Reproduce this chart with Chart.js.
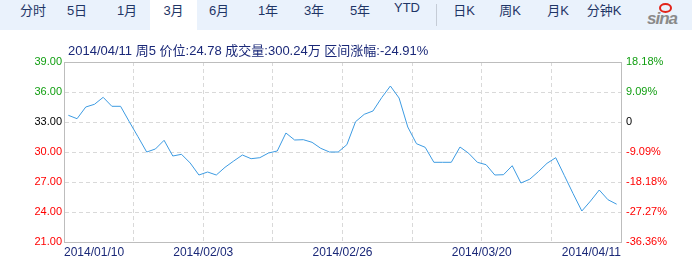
<!DOCTYPE html>
<html><head><meta charset="utf-8">
<script src="https://cdn.jsdelivr.net/npm/chart.js@4"></script>
<style>
html,body{margin:0;padding:0;background:#fff;width:700px;height:261px;overflow:hidden;}
#wrap{position:relative;width:700px;height:261px;}
#c{position:absolute;left:0;top:0;}
#bar{position:absolute;left:0;top:0;width:692px;height:30px;background:#eaf2fc;}
.tab{position:absolute;top:0;height:30px;line-height:30px;text-align:center;font:13px Arial,"Liberation Sans","Noto Sans CJK SC",sans-serif;color:#1f3566;width:46px;}
.active{background:#fff;width:47px;}
#sep{position:absolute;left:436px;top:4px;width:1px;height:22px;background:#c5ccd6;}
#logo{position:absolute;left:647px;top:9px;font:italic bold 17px Arial,"Liberation Sans",sans-serif;color:#8a8a8a;letter-spacing:-1px;}
#eye{position:absolute;left:659px;top:3px;width:9px;height:6px;border:2px solid #e2231a;border-radius:50%;}
#hdr{position:absolute;left:68px;top:43px;font:13px Arial,"Liberation Sans","Noto Sans CJK SC",sans-serif;color:#1a2878;white-space:nowrap;line-height:16px;}
</style>
</head><body>
<div id="wrap">
<canvas id="c" width="700" height="261"></canvas>
<div id="bar">
<span class="tab" style="left:10px">分时</span>
<span class="tab" style="left:54px">5日</span>
<span class="tab" style="left:104px">1月</span>
<span class="tab active" style="left:150px">3月</span>
<span class="tab" style="left:196px">6月</span>
<span class="tab" style="left:245px">1年</span>
<span class="tab" style="left:291px">3年</span>
<span class="tab" style="left:337px">5年</span>
<span class="tab" style="left:384px">YTD</span>
<span id="sep"></span>
<span class="tab" style="left:441px">日K</span>
<span class="tab" style="left:487px">周K</span>
<span class="tab" style="left:535px">月K</span>
<span class="tab" style="left:581px">分钟K</span>
<span id="eye"></span><span id="logo">sina</span>
</div>
<div id="hdr"></div>
</div>
<script>
const dates = [
 '2014/01/10','2014/01/13','2014/01/14','2014/01/15','2014/01/16','2014/01/17',
 '2014/01/21','2014/01/22','2014/01/23','2014/01/24','2014/01/27','2014/01/28',
 '2014/01/29','2014/01/30','2014/01/31','2014/02/03','2014/02/04','2014/02/05',
 '2014/02/06','2014/02/07','2014/02/10','2014/02/11','2014/02/12','2014/02/13',
 '2014/02/14','2014/02/18','2014/02/19','2014/02/20','2014/02/21','2014/02/24',
 '2014/02/25','2014/02/26','2014/02/27','2014/02/28','2014/03/03','2014/03/04',
 '2014/03/05','2014/03/06','2014/03/07','2014/03/10','2014/03/11','2014/03/12',
 '2014/03/13','2014/03/14','2014/03/17','2014/03/18','2014/03/19','2014/03/20',
 '2014/03/21','2014/03/24','2014/03/25','2014/03/26','2014/03/27','2014/03/28',
 '2014/03/31','2014/04/01','2014/04/02','2014/04/03','2014/04/04','2014/04/07',
 '2014/04/08','2014/04/09','2014/04/10','2014/04/11'
];
const closes = [
 33.67,33.33,34.50,34.77,35.47,34.57,34.57,33.03,31.53,30.00,
 30.30,31.17,29.60,29.77,28.90,27.70,28.00,27.70,28.47,29.10,
 29.70,29.33,29.43,29.90,30.10,31.90,31.20,31.23,30.97,30.37,
 30.00,30.00,30.73,33.03,33.77,34.10,35.43,36.60,35.40,32.50,
 30.83,30.47,28.97,28.97,28.97,30.50,29.87,28.97,28.73,27.70,
 27.73,28.63,26.90,27.27,28.03,28.87,29.43,27.63,25.83,24.10,
 25.10,26.20,25.23,24.78
];
const leftTickLabels  = ['21.00','24.00','27.00','30.00','33.00','36.00','39.00'];
const rightTickLabels = ['-36.36%','-27.27%','-18.18%','-9.09%','0','9.09%','18.18%'];
const baseClose = 33.00;
const volumeText = '300.24万';
const changeText = '-24.91%';
const weekdayText = '周5';

document.getElementById('hdr').textContent =
  dates[dates.length-1] + ' ' + weekdayText + '  价位:' + closes[closes.length-1].toFixed(2) +
  '  成交量:' + volumeText + '  区间涨幅:' + changeText;

const GREEN='#109e10', RED='#ff0000', BLACK='#000000';
const GRID='#d9d9d9', BORDER='#bdbdbd', TRANSP='rgba(0,0,0,0)';
const FONT='Arial, "Liberation Sans", sans-serif';
const yMin=21, yMax=39, yStep=3, xEvery=8;
const n = closes.length;
function tickColor(ctx){
  const v = ctx.tick.value;
  return v > baseClose + 1e-9 ? GREEN : (v < baseClose - 1e-9 ? RED : BLACK);
}

new Chart(document.getElementById('c'), {
  type:'line',
  data:{datasets:[{
    data: closes.map((v,i)=>({x:i,y:v})),
    borderColor:'#3d9be2', borderWidth:1, pointRadius:0, tension:0, fill:false
  }]},
  options:{
    responsive:false, animation:false, devicePixelRatio:1,
    layout:{padding:{top:62,left:0,right:0,bottom:0}},
    plugins:{legend:{display:false},tooltip:{enabled:false},title:{display:false}},
    scales:{
      x:{
        type:'linear', position:'bottom', min:-0.5, max:n-0.5,
        afterBuildTicks:(s)=>{const t=[];for(let v=-0.5;v<=n-0.5+1e-9;v+=xEvery)t.push({value:v});s.ticks=t;},
        afterFit:(s)=>{s.height=19;},
        grid:{color:(c)=> (c.index===0||c.tick.value>=n-0.5-1e-9)?TRANSP:GRID, drawTicks:false},
        border:{display:true,color:BORDER,width:1,dash:[4,3]},
        ticks:{autoSkip:false,maxRotation:0,minRotation:0,align:'inner',padding:3,color:'#1a2878',
          font:{size:12,family:FONT},
          callback:(v,i)=> (i%2===0) ? dates[Math.min(n-1,Math.max(0,Math.floor(v)))] : ''}
      },
      xTop:{
        type:'linear', position:'top', min:-0.5, max:n-0.5,
        ticks:{display:false}, grid:{display:false,drawTicks:false},
        border:{display:true,color:BORDER,width:1},
        afterFit:(s)=>{s.height=0;}
      },
      y:{
        type:'linear', position:'left', min:yMin, max:yMax,
        afterFit:(s)=>{s.width=64;},
        grid:{color:(c)=>(c.tick.value<=yMin||c.tick.value>=yMax)?TRANSP:GRID, drawTicks:false},
        border:{display:true,color:BORDER,width:1,dash:[4,3]},
        ticks:{stepSize:yStep,padding:2,color:tickColor,font:{size:11,family:FONT},
          callback:(v,i)=>leftTickLabels[i]}
      },
      y2:{
        type:'linear', position:'right', min:yMin, max:yMax,
        afterFit:(s)=>{s.width=79;},
        grid:{drawOnChartArea:false,drawTicks:false},
        border:{display:true,color:BORDER,width:1},
        ticks:{stepSize:yStep,padding:5,color:tickColor,font:{size:11,family:FONT},
          callback:(v,i)=>rightTickLabels[i]}
      }
    }
  }
});
</script>
</body></html>
